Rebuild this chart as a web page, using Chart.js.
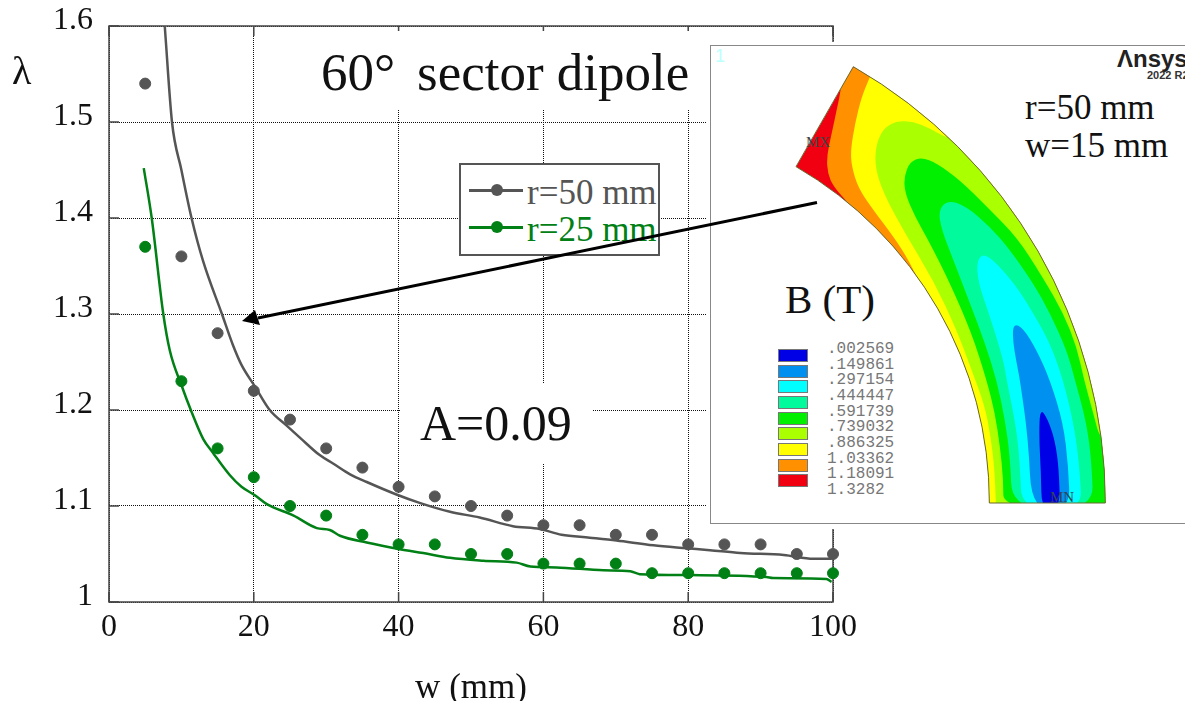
<!DOCTYPE html>
<html lang="en">

<head>
    <meta charset="UTF-8">
    <title>60 deg sector dipole</title>
    <script src="https://cdn.jsdelivr.net/npm/chart.js"></script>
    <style>
        body { margin: 0; background: #fff; overflow: hidden; font-family: "Liberation Serif", serif; color: #111; }
        #page { position: relative; width: 1185px; height: 701px; overflow: hidden; }
        canvas { position: absolute; left: 0; top: 0; }
        .box { position: absolute; background: #fff; }
        .txt { position: absolute; white-space: pre; line-height: 1; }
        #legendBox { left: 459px; top: 163px; width: 197px; height: 89px; border: 2px solid #555; }
        .swatch { position: absolute; left: 778px; width: 28px; height: 11px; border: 1px solid #777; }
        .level { position: absolute; left: 827px; font: 16px "Liberation Mono", monospace; color: #777; line-height: 1; white-space: pre; }
    </style>
</head>

<body>
    <div id="page">
        <canvas id="dipoleChart" width="1185" height="701"></canvas>
        <div class="txt" style="left:12px;top:51px;font-size:40px">λ</div>

        <!-- white patches behind the pasted labels, they hide the grid -->
        <div class="box" style="left:270px;top:31px;width:437px;height:78px"></div>
        <div class="txt" style="left:321px;top:46px;font-size:53px">60°</div>
        <div class="txt" style="left:417px;top:46px;font-size:53px">sector dipole</div>
        <div class="box" style="left:400px;top:383px;width:193px;height:80px"></div>
        <div class="txt" style="left:420px;top:398px;font-size:50px">A=0.09</div>

        <div class="box" id="legendBox"></div>

        <!-- pasted field map -->
        <div class="box" style="left:707px;top:42px;width:478px;height:487px"></div>
        <div class="box" style="left:710px;top:45px;width:480px;height:479px;border:1px solid #888;box-sizing:border-box"></div>
        <svg id="fieldMap" style="position:absolute;left:700px;top:30px" width="485" height="500" viewBox="0 0 1455 1500"></svg>
        <div class="txt" style="left:715px;top:46px;font:18px 'Liberation Sans';color:#bff">1</div>
        <div class="txt" style="left:1117px;top:45px;font:bold 24px 'Liberation Sans';color:#222">Λnsys</div>
        <div class="txt" style="left:1147px;top:69px;font:bold 11px 'Liberation Sans';color:#333">2022 R2</div>
        <div class="txt" style="left:1025px;top:90px;font-size:35px">r=50 mm</div>
        <div class="txt" style="left:1025px;top:128px;font-size:35px">w=15 mm</div>
        <div class="txt" style="left:785px;top:279px;font-size:41px">B (T)</div>
        <div class="txt" style="left:806px;top:135px;font-size:15px;color:#444">MX</div>
        <div class="txt" style="left:1050px;top:490px;font-size:15px;color:#345">MN</div>

        <svg id="arrow" style="position:absolute;left:0;top:0" width="1185" height="701"></svg>
    </div>

    <script>
        // simulated points
        const wPoints = [5, 10, 15, 20, 25, 30, 35, 40, 45, 50, 55, 60, 65, 70, 75, 80, 85, 90, 95, 100];
        const points50 = [1.54, 1.36, 1.28, 1.22, 1.19, 1.16, 1.14, 1.12, 1.11, 1.10, 1.09, 1.08, 1.08, 1.07, 1.07, 1.06, 1.06, 1.06, 1.05, 1.05];
        const points25 = [1.37, 1.23, 1.16, 1.13, 1.10, 1.09, 1.07, 1.06, 1.06, 1.05, 1.05, 1.04, 1.04, 1.04, 1.03, 1.03, 1.03, 1.03, 1.03, 1.03];

        // fitted curves
        const curveW50 = [7.7, 8.7, 10, 11.4, 13, 15.6, 17.1, 18.3, 20.2, 22.2, 24.5, 26.4, 29.1, 31, 33.3, 35.6, 39.7, 43, 47.1, 51.2, 55.8, 59.5, 62.5, 66.4, 70.1, 75.2, 79.8, 83, 87.2, 93.2, 97.3, 99.8];
        const curveL50 = [1.6, 1.5, 1.45, 1.4, 1.355, 1.3, 1.268, 1.247, 1.224, 1.2, 1.184, 1.171, 1.153, 1.144, 1.133, 1.125, 1.112, 1.103, 1.094, 1.088, 1.079, 1.076, 1.07, 1.067, 1.064, 1.059, 1.056, 1.054, 1.051, 1.049, 1.045, 1.045];
        const curveW25 = [4.8, 5.9, 7.5, 8.4, 10.1, 11.3, 13, 14.4, 16.7, 18.3, 20.2, 21.8, 25.5, 28.7, 30.5, 31.9, 35.6, 40.2, 43.4, 47.1, 51.7, 56.3, 58.2, 61.8, 68.3, 72, 73.3, 80.2, 90.8, 91.7, 99.1, 99.8];
        const curveL25 = [1.452, 1.4, 1.3, 1.262, 1.224, 1.2, 1.17, 1.155, 1.132, 1.12, 1.111, 1.102, 1.09, 1.077, 1.075, 1.069, 1.062, 1.055, 1.051, 1.046, 1.043, 1.041, 1.037, 1.036, 1.033, 1.032, 1.029, 1.028, 1.026, 1.025, 1.024, 1.021];

        const xTicks = [0, 20, 40, 60, 80, 100];
        const yTicks = [1, 1.1, 1.2, 1.3, 1.4, 1.5, 1.6];
        const seriesNames = ['r=50 mm', 'r=25 mm'];
        const seriesColors = ['#555555', '#008015'];

        // B (T) colour scale of the field map
        const levelLabels = ['.002569', '.149861', '.297154', '.444447', '.591739', '.739032', '.886325', '1.03362', '1.18091', '1.3282'];
        const levelColors = ['#0000e6', '#0090f0', '#00ffff', '#00fa9c', '#00f000', '#aaff00', '#ffff00', '#ff9000', '#f00010'];

        function pairs(xs, ys) {
            return xs.map((x, i) => ({ x: x, y: ys[i] }));
        }

        function curveSet(xs, ys, color) {
            return { data: pairs(xs, ys), borderColor: color, borderWidth: 2.5, pointRadius: 0, cubicInterpolationMode: 'monotone', clip: false };
        }

        function dotSet(ys, color) {
            return { data: pairs(wPoints, ys), showLine: false, pointRadius: 5.5, pointBackgroundColor: color, pointBorderColor: color, clip: false };
        }

        // frame and the short solid ticks pointing into the plot
        const frameTicks = {
            id: 'frameTicks',
            beforeDatasetsDraw(chart) {
                const { ctx, chartArea: a, scales } = chart;
                ctx.save();
                ctx.strokeStyle = '#444';
                ctx.lineWidth = 1.5;
                ctx.strokeRect(a.left, a.top, a.right - a.left, a.bottom - a.top);
                ctx.beginPath();
                xTicks.forEach(v => {
                    const p = scales.x.getPixelForValue(v);
                    ctx.moveTo(p, a.bottom); ctx.lineTo(p, a.bottom - 10);
                    ctx.moveTo(p, a.top); ctx.lineTo(p, a.top + 10);
                });
                yTicks.forEach(v => {
                    const p = scales.y.getPixelForValue(v);
                    ctx.moveTo(a.left, p); ctx.lineTo(a.left + 10, p);
                });
                ctx.stroke();
                ctx.restore();
            }
        };

        new Chart(document.getElementById('dipoleChart'), {
            type: 'line',
            data: {
                datasets: [
                    curveSet(curveW50, curveL50, seriesColors[0]),
                    curveSet(curveW25, curveL25, seriesColors[1]),
                    dotSet(points50, seriesColors[0]),
                    dotSet(points25, seriesColors[1])
                ]
            },
            options: {
                responsive: false,
                animation: false,
                layout: { autoPadding: false, padding: { top: 18, right: 352, left: 0, bottom: 0 } },
                plugins: { legend: { display: false }, tooltip: { enabled: false } },
                scales: {
                    x: {
                        type: 'linear',
                        min: 0,
                        max: 100,
                        afterBuildTicks: s => { s.ticks = xTicks.map(v => ({ value: v })); },
                        afterFit: s => { s.height = 99; },
                        ticks: { color: '#111', padding: 6, maxRotation: 0, font: { family: 'Liberation Serif', size: 32 } },
                        grid: { color: '#111', drawTicks: false },
                        border: { display: false, dash: [1, 1] },
                        title: { display: true, text: 'w (mm)', color: '#111', padding: 1, font: { family: 'Liberation Serif', size: 35, lineHeight: 0.65 } }
                    },
                    y: {
                        min: 1,
                        max: 1.6,
                        afterBuildTicks: s => { s.ticks = yTicks.map(v => ({ value: v })); },
                        afterFit: s => { s.width = 109; },
                        ticks: {
                            color: '#111',
                            padding: 16,
                            // the empty second line lifts the labels a little above their grid line
                            font: { family: 'Liberation Serif', size: 32, lineHeight: '10px' },
                            callback: v => [v === 1 ? '1' : v.toFixed(1), '']
                        },
                        grid: { color: '#111', drawTicks: false },
                        border: { display: false, dash: [1, 1] }
                    }
                }
            },
            plugins: [frameTicks]
        });

        // legend box
        const legendBox = document.getElementById('legendBox');
        seriesNames.forEach((name, i) => {
            const top = i === 0 ? 25 : 62;
            legendBox.insertAdjacentHTML('beforeend',
                `<div style="position:absolute;left:8px;top:${top - 1}px;width:54px;height:2.5px;background:${seriesColors[i]}"></div>` +
                `<div style="position:absolute;left:30px;top:${top - 6}px;width:12px;height:12px;border-radius:50%;background:${seriesColors[i]}"></div>` +
                `<div class="txt" style="left:66px;top:${top - 15}px;font-size:35px;color:${seriesColors[i]}">${name}</div>`);
        });

        // colour key of the field map
        const page = document.getElementById('page');
        levelLabels.forEach((label, i) => {
            const top = 341 + i * 15.65;
            page.insertAdjacentHTML('beforeend', `<div class="level" style="top:${top}px">${label}</div>`);
            if (levelColors[i]) {
                page.insertAdjacentHTML('beforeend', `<div class="swatch" style="top:${top + 8}px;background:${levelColors[i]}"></div>`);
            }
        });

        // contour bands, outlines in the svg's own units; painted from high field to low field
        const sector = 'M868,1419 A1161,1161 0 0 0 288,410 L460,110 A1509,1509 0 0 1 1216,1419 Z';
        const bands = [
            ['#ff9000', [[430, 90], [425, 170], [410, 240], [395, 310], [380, 380], [383, 430], [400, 470], [450, 525], [480, 570], [520, 1500], [1500, 1500], [1500, 90]]],
            ['#ffff00', [[530, 90], [508, 145], [485, 200], [465, 280], [452, 360], [455, 410], [475, 475], [520, 540], [580, 620], [620, 680], [668, 775], [690, 830], [720, 1500], [1500, 1500], [1500, 90]]],
            ['#aaff00', [[810, 310], [745, 328], [690, 295], [640, 275], [590, 273], [550, 295], [528, 345], [525, 410], [550, 490], [615, 610], [700, 750], [770, 900], [815, 1020], [855, 1130], [872, 1220], [883, 1310], [888, 1420], [888, 1500], [1500, 1500], [1500, 310]]],
            ['#00f000', [[665, 382], [630, 395], [612, 440], [615, 490], [645, 560], [690, 640], [750, 760], [815, 910], [860, 1050], [885, 1150], [900, 1250], [910, 1350], [910, 1440], [1320, 1440], [1320, 1250], [1203, 1240], [1180, 1150], [1152, 1050], [1130, 950], [1090, 850], [1030, 745], [950, 620], [860, 530], [780, 450], [710, 400]]],
            ['#00fa9c', [[745, 510], [715, 540], [725, 600], [760, 690], [810, 820], [855, 940], [890, 1050], [915, 1170], [930, 1280], [937, 1440], [1180, 1440], [1175, 1300], [1160, 1180], [1125, 1050], [1100, 960], [1050, 850], [1000, 760], [930, 660], [870, 590], [800, 530]]],
            ['#00ffff', [[850, 670], [830, 695], [835, 760], [870, 860], [910, 990], [920, 1050], [950, 1200], [960, 1310], [965, 1440], [1145, 1440], [1140, 1330], [1125, 1200], [1090, 1050], [1050, 940], [1000, 850], [950, 770], [890, 700]]],
            ['#0090f0', [[940, 880], [938, 930], [950, 1000], [960, 1050], [985, 1230], [995, 1440], [1110, 1440], [1105, 1310], [1090, 1180], [1050, 1050], [1010, 960], [970, 895]]],
            ['#0000e6', [[1020, 1135], [1017, 1220], [1023, 1330], [1025, 1440], [1080, 1440], [1077, 1320], [1065, 1230], [1042, 1165]]]
        ];

        function smoothPath(pts) {
            let d = `M${(pts[0][0] + pts[1][0]) / 2},${(pts[0][1] + pts[1][1]) / 2}`;
            for (let i = 1; i <= pts.length; i++) {
                const p = pts[i % pts.length];
                const n = pts[(i + 1) % pts.length];
                d += ` Q${p[0]},${p[1]} ${(p[0] + n[0]) / 2},${(p[1] + n[1]) / 2}`;
            }
            return d + ' Z';
        }

        let mapSvg = `<defs><clipPath id="sectorClip"><path d="${sector}"/></clipPath></defs>`;
        mapSvg += `<g clip-path="url(#sectorClip)"><path d="${sector}" fill="#f00010"/>`;
        bands.forEach(b => { mapSvg += `<path d="${smoothPath(b[1])}" fill="${b[0]}"/>`; });
        mapSvg += `</g><path d="${sector}" fill="none" stroke="#6a6a30" stroke-width="3"/>`;
        document.getElementById('fieldMap').innerHTML = mapSvg;

        // arrow from the map to the r=50 curve
        document.getElementById('arrow').innerHTML =
            '<line x1="817" y1="202.5" x2="258" y2="318" stroke="#000" stroke-width="3"/>' +
            '<polygon points="242,321 255,310 260,325" fill="#000"/>';
    </script>
</body>

</html>
